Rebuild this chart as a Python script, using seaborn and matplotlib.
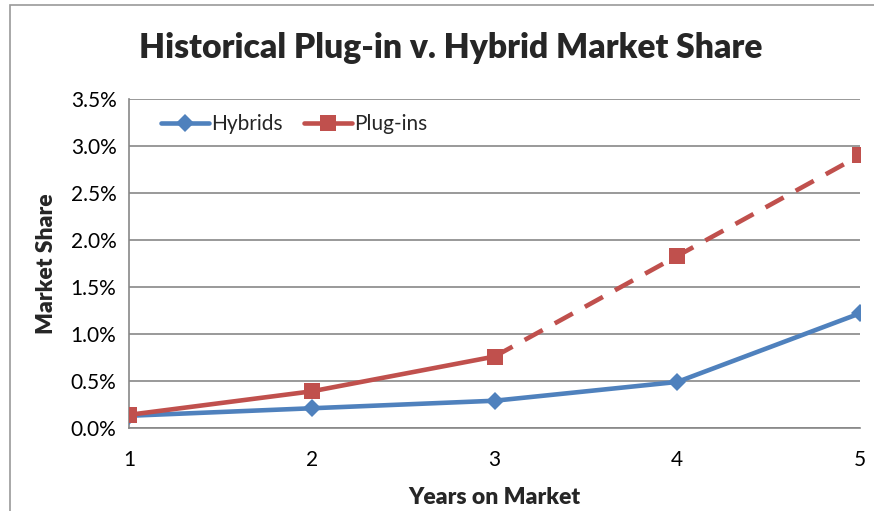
import pandas as pd
import matplotlib.pyplot as plt
import seaborn as sns
from matplotlib.patches import Rectangle
from matplotlib.ticker import PercentFormatter

years = [1, 2, 3, 4, 5]
hybrids = [0.0013, 0.0021, 0.0029, 0.0049, 0.0122]
plugins = [0.0014, 0.0039, 0.0076, 0.0183, 0.0290]
plugins_actual_years = [1, 2, 3]     # solid part
plugins_projected_years = [3, 4, 5]  # dashed part

BLUE = "#4F81BD"
RED = "#C0504D"
GRID = "#878787"


def plot():
    sns.set_theme(style="white")
    plt.rcParams['font.family'] = ['Lato', 'DejaVu Sans']

    df_h = pd.DataFrame({'year': years, 'share': hybrids})
    df_p = pd.DataFrame({'year': years, 'share': plugins})
    solid = df_p[df_p['year'].isin(plugins_actual_years)]
    dashed = df_p[df_p['year'].isin(plugins_projected_years)]

    fig = plt.figure(figsize=(8.74, 5.11), dpi=100)
    ax = fig.add_axes([129 / 874, 1 - 428 / 511, (860 - 129) / 874, (428 - 99) / 511])

    # chart border like the spreadsheet frame
    fig.patches.append(Rectangle((10 / 874, -0.05), 1.2, 1 - 5 / 511 + 0.05,
                                 transform=fig.transFigure, fill=False,
                                 edgecolor="#9a9a9a", linewidth=1.2))

    sns.lineplot(data=df_h, x='year', y='share', ax=ax, color=BLUE, linewidth=3.3,
                 marker='D', markersize=9, markeredgewidth=0, label='Hybrids',
                 zorder=3)
    sns.lineplot(data=dashed, x='year', y='share', ax=ax, color=RED, linewidth=3.3,
                 linestyle=(0, (4.5, 3)), marker='s', markersize=11.5,
                 markeredgewidth=0, zorder=3)
    sns.lineplot(data=solid, x='year', y='share', ax=ax, color=RED, linewidth=3.3,
                 marker='s', markersize=11.5, markeredgewidth=0, label='Plug-ins',
                 zorder=4)

    ax.set_xlim(1, 5)
    ax.set_ylim(0, 0.035)
    ax.set_xticks(years)
    ax.set_yticks([i * 0.005 for i in range(8)])
    ax.yaxis.set_major_formatter(PercentFormatter(1.0, decimals=1))
    ax.yaxis.grid(True, color=GRID, linewidth=1.2)
    ax.set_axisbelow(True)
    for s in ['top', 'right']:
        ax.spines[s].set_visible(False)
    for s in ['left', 'bottom']:
        ax.spines[s].set_color(GRID)
        ax.spines[s].set_linewidth(1.2)
    ax.tick_params(axis='both', which='both', direction='out', length=6,
                   color=GRID, width=1.2, labelsize=15, colors='black')
    ax.tick_params(axis='x', pad=10)
    ax.tick_params(axis='y', pad=3)
    for t in ax.get_xticklines() + ax.get_yticklines():
        t.set_color(GRID)

    ax.set_xlabel("Years on Market", fontsize=16.5, fontweight='heavy', labelpad=12)
    ax.set_ylabel("Market Share", fontsize=16.5, fontweight='heavy', labelpad=10)
    fig.text(451 / 874, 1 - 48 / 511, "Historical Plug-in v. Hybrid Market Share",
             ha='center', va='center', fontsize=24.2, fontweight='heavy')

    ax.legend(loc='upper left', bbox_to_anchor=(0.033, 0.98), ncol=2, frameon=False,
              fontsize=15, handlelength=2.3, handletextpad=0.1, columnspacing=1.0,
              borderaxespad=0)

    fig.savefig("out.png", dpi=100)


if __name__ == "__main__":
    plot()
